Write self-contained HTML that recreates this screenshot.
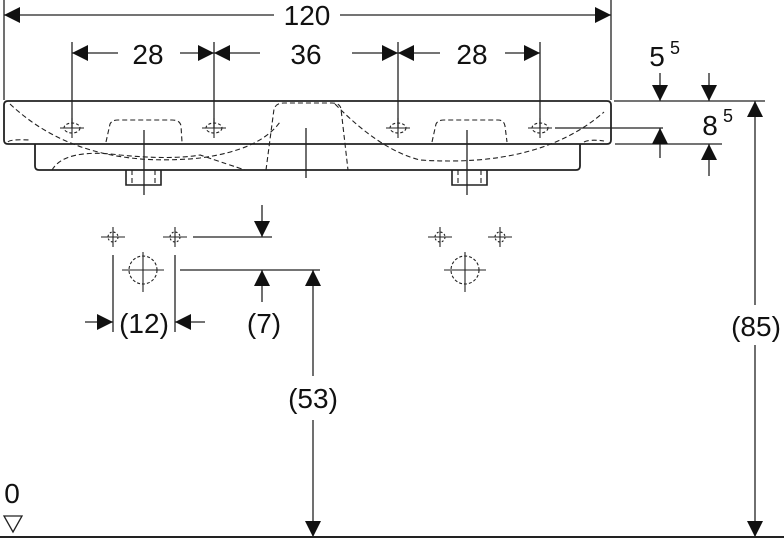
<!DOCTYPE html>
<html><head><meta charset="utf-8"><style>
html,body{margin:0;padding:0;background:#fff}
svg{display:block}
text{font-family:"Liberation Sans",sans-serif;fill:#111}
</style></head><body>
<svg width="784" height="544" viewBox="0 0 784 544" xmlns="http://www.w3.org/2000/svg">
<defs>
<marker id="a" viewBox="0 0 10 10" refX="10" refY="5" markerWidth="20" markerHeight="16" markerUnits="userSpaceOnUse" orient="auto"><path d="M0,0L10,5L0,10z" fill="#111"/></marker>
</defs>
<g stroke="#222" stroke-width="1.3" fill="none">
<line x1="4" y1="0" x2="4" y2="100"/><line x1="611" y1="0" x2="611" y2="100"/>
<line x1="40" y1="15" x2="4" y2="15" marker-end="url(#a)"/>
<line x1="570" y1="15" x2="611" y2="15" marker-end="url(#a)"/>
<line x1="40" y1="15" x2="274" y2="15"/><line x1="340" y1="15" x2="570" y2="15"/>
<line x1="72" y1="42" x2="72" y2="128"/><line x1="214" y1="42" x2="214" y2="128"/>
<line x1="398" y1="42" x2="398" y2="128"/><line x1="540" y1="42" x2="540" y2="128"/>
<line x1="118" y1="53" x2="72" y2="53" marker-end="url(#a)"/><line x1="180" y1="53" x2="214" y2="53" marker-end="url(#a)"/>
<line x1="260" y1="53" x2="214" y2="53" marker-end="url(#a)"/><line x1="352" y1="53" x2="398" y2="53" marker-end="url(#a)"/>
<line x1="440" y1="53" x2="398" y2="53" marker-end="url(#a)"/><line x1="505" y1="53" x2="540" y2="53" marker-end="url(#a)"/>
<path d="M8,101 H607 Q611,101 611,105 V140 Q611,144 607,144 H8 Q4,144 4,140 V105 Q4,101 8,101Z" stroke-width="1.8"/>
<path d="M35,144 V166 Q35,170 39,170 H576 Q580,170 580,166 V144" stroke-width="1.8"/>
<path d="M126,170 V185 H161 V170 M452,170 V185 H487 V170" stroke-width="1.6"/>
<g stroke-dasharray="5,3" stroke-width="1.1">
<path d="M10,104 Q80,170 200,158 Q260,150 280,122"/>
<path d="M335,104 Q380,150 420,160 Q540,168 604,112"/>
<path d="M106,142 L110,124 Q112,120 118,120 H172 Q180,120 181,126 L182,142"/>
<path d="M266,170 L274,109 Q276,103 284,103 H332 Q340,103 341,109 L348,170"/>
<path d="M432,142 L436,124 Q438,120 444,120 H498 Q504,120 505,126 L507,142"/>
<path d="M52,170 Q65,148 120,155 Q170,160 200,155 Q230,165 245,170"/>
<path d="M8,142 Q10,139 30,140"/><path d="M584,142 Q590,139 604,141"/>
<path d="M132,170 V184 M155,170 V184 M458,170 V184 M481,170 V184"/>
</g>
<path d="M144,130 V195 M306,128 V178 M467,130 V195"/>
<g stroke-width="1.1">
<ellipse cx="72" cy="128" rx="8" ry="5" stroke-dasharray="3,2"/><path d="M60,128H84M72,118V138"/>
<ellipse cx="214" cy="128" rx="8" ry="5" stroke-dasharray="3,2"/><path d="M202,128H226M214,118V138"/>
<ellipse cx="398" cy="128" rx="8" ry="5" stroke-dasharray="3,2"/><path d="M386,128H410M398,118V138"/>
<ellipse cx="540" cy="128" rx="8" ry="5" stroke-dasharray="3,2"/><path d="M528,128H552M540,118V138"/>
</g>
<line x1="614" y1="101" x2="765" y2="101"/>
<line x1="555" y1="128" x2="663" y2="128"/>
<line x1="615" y1="144" x2="722" y2="144"/>
<line x1="660" y1="73" x2="660" y2="101" marker-end="url(#a)"/>
<line x1="709" y1="73" x2="709" y2="101" marker-end="url(#a)"/>
<line x1="660" y1="158" x2="660" y2="128" marker-end="url(#a)"/>
<line x1="709" y1="176" x2="709" y2="144" marker-end="url(#a)"/>
<line x1="755" y1="305" x2="755" y2="101" marker-end="url(#a)"/>
<line x1="755" y1="345" x2="755" y2="537" marker-end="url(#a)"/>
<g stroke-width="1.1">
<path d="M101,237H125M113,227V247M163,237H187M175,227V247M428,237H452M440,227V247M488,237H512M500,237V227M500,237V247"/>
<circle cx="113" cy="237" r="5" stroke-dasharray="2,2"/><circle cx="175" cy="237" r="5" stroke-dasharray="2,2"/>
<circle cx="440" cy="237" r="5" stroke-dasharray="2,2"/><circle cx="500" cy="237" r="5" stroke-dasharray="2,2"/>
<circle cx="143" cy="270" r="14" stroke-dasharray="3,2"/><circle cx="465" cy="270" r="14" stroke-dasharray="3,2"/>
<path d="M122,270H164M143,252V292M444,270H486M465,252V292"/>
</g>
<line x1="193" y1="237" x2="272" y2="237"/>
<line x1="180" y1="270" x2="320" y2="270"/>
<line x1="262" y1="205" x2="262" y2="237" marker-end="url(#a)"/>
<line x1="262" y1="302" x2="262" y2="270" marker-end="url(#a)"/>
<line x1="113" y1="255" x2="113" y2="332"/><line x1="175" y1="255" x2="175" y2="332"/>
<line x1="85" y1="322" x2="113" y2="322" marker-end="url(#a)"/>
<line x1="205" y1="322" x2="175" y2="322" marker-end="url(#a)"/>
<line x1="313" y1="376" x2="313" y2="270" marker-end="url(#a)"/>
<line x1="313" y1="420" x2="313" y2="537" marker-end="url(#a)"/>
<line x1="0" y1="537" x2="784" y2="537" stroke-width="2"/>
<path d="M4,516 H22 L13,532 Z"/>
</g>
<g font-size="28" text-anchor="middle">
<text x="307" y="25">120</text>
<text x="148" y="64">28</text><text x="306" y="64">36</text><text x="472" y="64">28</text>
<text x="144" y="333">(12)</text><text x="264" y="333">(7)</text>
<text x="313" y="408">(53)</text><text x="756" y="336">(85)</text>
<text x="12" y="503">0</text>
<text x="657" y="66">5</text><text x="675" y="54" font-size="18">5</text>
<text x="710" y="135">8</text><text x="728" y="122" font-size="18">5</text>
</g>
</svg>
</body></html>
